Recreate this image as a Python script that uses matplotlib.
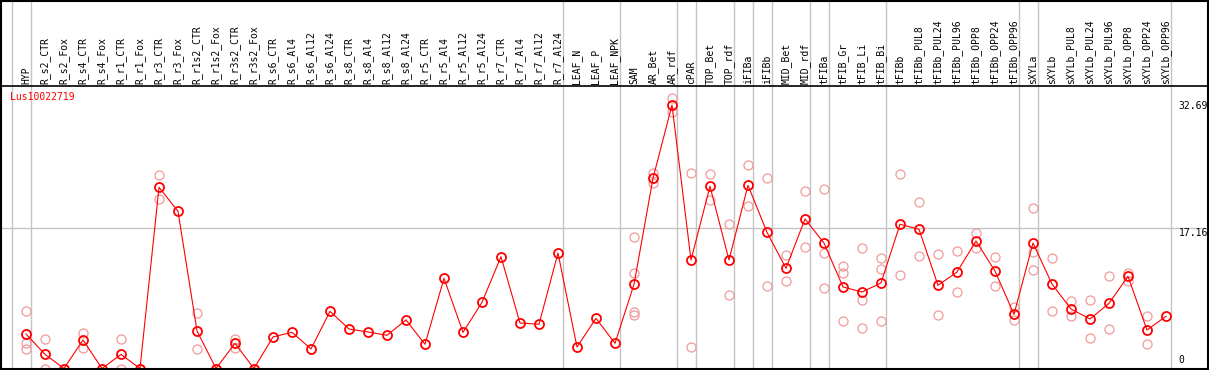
import matplotlib
matplotlib.use('Agg')
import matplotlib.pyplot as plt

gene = 'Lus10022719'

samples = ['HYP', 'R_s2_CTR', 'R_s2_Fox', 'R_s4_CTR', 'R_s4_Fox', 'R_r1_CTR', 'R_r1_Fox',
           'R_r3_CTR', 'R_r3_Fox', 'R_r1s2_CTR', 'R_r1s2_Fox', 'R_r3s2_CTR', 'R_r3s2_Fox',
           'R_s6_CTR', 'R_s6_Al4', 'R_s6_Al12', 'R_s6_Al24', 'R_s8_CTR', 'R_s8_Al4',
           'R_s8_Al12', 'R_s8_Al24', 'R_r5_CTR', 'R_r5_Al4', 'R_r5_Al12', 'R_r5_Al24',
           'R_r7_CTR', 'R_r7_Al4', 'R_r7_Al12', 'R_r7_Al24', 'LEAF_N', 'LEAF_P', 'LEAF_NPK',
           'SAM', 'AR_Bet', 'AR_rdf', 'cPAR', 'TOP_Bet', 'TOP_rdf', 'iFIBa', 'iFIBb',
           'MID_Bet', 'MID_rdf', 'tFIBa', 'tFIB_Gr', 'tFIB_Li', 'tFIB_Bi', 'tFIBb',
           'tFIBb_PUL8', 'tFIBb_PUL24', 'tFIBb_PUL96', 'tFIBb_OPP8', 'tFIBb_OPP24',
           'tFIBb_OPP96', 'sXYLa', 'sXYLb', 'sXYLb_PUL8', 'sXYLb_PUL24', 'sXYLb_PUL96',
           'sXYLb_OPP8', 'sXYLb_OPP24', 'sXYLb_OPP96']

means = [4.22, 1.73, 0, 3.49, 0, 1.73, 0, 22.18, 19.24, 4.59, 0, 3.08, 0,
         3.86, 4.43, 2.39, 7.0, 4.83, 4.47, 4.06, 5.94, 2.96, 11.04, 4.43, 8.10,
         13.69, 5.57, 5.41, 14.14, 2.63, 6.14, 3.08,
         10.30, 23.28, 32.25, 13.28, 22.30, 13.28, 22.42, 16.67, 12.26, 18.30,
         15.36, 9.98, 9.36, 10.47, 17.65, 17.04, 10.18, 11.81, 15.61, 11.93, 6.63,
         15.36, 10.34, 7.28, 6.06, 7.98, 11.28, 4.71, 6.39]

replicates = [[7.04, 3.16, 2.35], [3.57, 0], [0], [4.34, 2.55], [0], [3.57, 0], [0],
              [23.65, 20.71], [], [6.75, 2.39], [0], [3.57, 2.55], [0],
              [], [], [], [], [], [], [], [], [], [], [], [],
              [], [], [], [], [], [], [],
              [16.1, 11.69, 6.96, 6.55], [23.97, 22.67], [33.1, 31.43], [23.89, 2.63],
              [23.77, 20.66], [17.65, 9.0], [24.87, 19.85], [23.28, 10.06],
              [13.89, 10.67], [21.69, 14.83], [21.97, 14.1, 9.82], [12.51, 11.65, 5.81],
              [14.71, 8.35, 4.92], [13.53, 12.14, 5.81], [23.77, 11.41], [20.42, 13.73],
              [14.01, 6.51], [14.34, 9.33], [16.55, 14.71], [13.65, 10.1], [7.49, 5.9],
              [19.65, 14.3, 12.02], [13.53, 7.04], [8.26, 6.39], [8.38, 3.69],
              [11.32, 4.83], [11.69, 10.75], [6.39, 2.96], []]

# group separators drawn right after these sample indices
group_ends = [-1, 0, 28, 31, 34, 35, 37, 38, 39, 41, 42, 45, 52, 53, 60]

ref_lines = [32.69, 17.16, 0]

# pixel layout of the original image
W, H = 1209, 370
X0, DX = 26, 19          # pixel x of first sample, spacing
Y0, SY = 368.5, 8.17     # pixel row of zero, pixels per unit


def vy(py):
    return (Y0 - py) / SY


def vx(px):
    return (px - X0) / DX


fig = plt.figure(figsize=(W / 100, H / 100), dpi=100)
ax = fig.add_axes([0, 0, 1, 1])
ax.set_xlim(vx(0), vx(W))
ax.set_ylim(vy(H), vy(0))
ax.axis('off')

mono = 'DejaVu Sans Mono'
grey = '#c4c4c4'

# vertical separators over the full height
for g in group_ends:
    ax.plot([g + 0.25, g + 0.25], [vy(0), vy(369)], color=grey, lw=1, zorder=1)

# horizontal reference at middle value
ax.plot([vx(1), vx(1207)], [ref_lines[1], ref_lines[1]], color=grey, lw=1, zorder=1)

# frame and header separator
ax.plot([vx(0), vx(W)], [vy(0.5), vy(0.5)], color='black', lw=1.5, zorder=5)
ax.plot([vx(0), vx(W)], [vy(85.5), vy(85.5)], color='black', lw=1.2, zorder=5)
ax.plot([vx(0), vx(W)], [vy(369), vy(369)], color='black', lw=1.5, zorder=5)
ax.plot([vx(1), vx(1)], [vy(0), vy(H)], color='black', lw=1.5, zorder=5)
ax.plot([vx(1207.5), vx(1207.5)], [vy(0), vy(H)], color='black', lw=1.5, zorder=5)

xs = list(range(len(samples)))

for i, lab in enumerate(samples):
    ax.text(i, vy(83.5), lab, rotation=90, ha='center', va='bottom',
            family=mono, fontsize=7, color='black')

# replicate points
rx = [i for i, r in enumerate(replicates) for _ in r]
ry = [v for r in replicates for v in r]
ax.plot(rx, ry, 'o', ms=6.5, mfc='none', mec='#f09a9a', mew=0.9, zorder=3)

# mean line
ax.plot(xs, means, '-', color='red', lw=0.8, zorder=4)
ax.plot(xs, means, 'o', ms=6.5, mfc='none', mec='red', mew=1.3, zorder=4)

ax.text(vx(10), vy(97), gene, color='red', family=mono, fontsize=7,
        ha='left', va='center')

for v in ref_lines[:2]:
    ax.text(vx(1178.5), v, '%.2f' % v, family=mono, fontsize=7,
            ha='left', va='top', color='black')
ax.text(vx(1178.5), ref_lines[2] + 0.4, '0', family=mono, fontsize=7,
        ha='left', va='bottom', color='black')

plt.savefig('out.png', dpi=100)
